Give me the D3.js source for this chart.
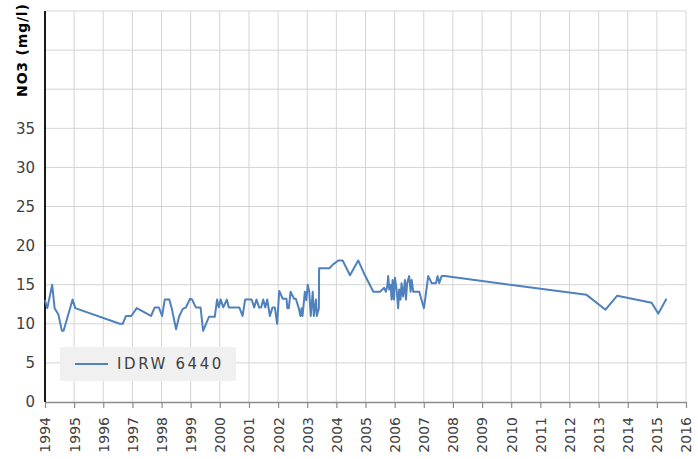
<!DOCTYPE html>
<html>
<head>
<meta charset="utf-8">
<script src="https://cdn.jsdelivr.net/npm/d3@7"></script>
<style>
  html, body { margin: 0; padding: 0; background: #fff; }
  svg { display: block; }
  text { font-family: "DejaVu Sans", sans-serif; }
</style>
</head>
<body>
<svg id="chart" width="698" height="459"></svg>
<script>
// Nitrate concentration samples for well IDRW 6440
const seriesName = "IDRW 6440";
const sampleDates = [
  "1994-01-01","1994-01-30","1994-04-01","1994-05-01","1994-06-18","1994-08-01","1994-08-22","1994-12-13",
  "1995-01-15","1996-07-26","1996-09-01","1996-10-12","1996-12-17","1997-02-24","1997-08-22","1997-10-08",
  "1997-11-28","1998-01-08","1998-02-10","1998-04-08","1998-05-08","1998-07-02","1998-08-08","1998-09-24",
  "1998-11-03","1998-12-24","1999-01-19","1999-03-07","1999-05-05","1999-06-06","1999-08-18","1999-10-30",
  "1999-11-28","1999-12-20","2000-01-12","2000-02-14","2000-03-29","2000-04-23","2000-09-02","2000-10-12",
  "2000-11-14","2001-02-03","2001-03-07","2001-04-05","2001-05-08","2001-06-03","2001-06-28","2001-07-24",
  "2001-08-18","2001-09-20","2001-10-23","2001-11-21","2001-12-20","2002-01-15","2002-02-28","2002-04-16",
  "2002-04-27","2002-05-15","2002-06-06","2002-07-20","2002-08-11","2002-09-17","2002-10-08","2002-10-23",
  "2002-11-03","2002-12-02","2002-12-20","2003-01-08","2003-01-26","2003-02-14","2003-03-11","2003-03-25",
  "2003-04-20","2003-05-01","2003-05-27","2003-05-30","2003-10-05","2003-11-22","2004-01-26","2004-03-20",
  "2004-06-20","2004-10-01","2004-12-24","2005-04-09","2005-07-02","2005-08-23","2005-09-13","2005-09-30",
  "2005-10-12","2005-10-25","2005-11-11","2005-11-24","2005-12-06","2005-12-23","2006-01-04","2006-01-25",
  "2006-02-14","2006-02-27","2006-03-16","2006-03-28","2006-04-17","2006-05-10","2006-05-22","2006-06-07",
  "2006-07-02","2006-07-20","2006-08-02","2006-08-22","2006-11-05","2007-01-03","2007-02-26","2007-04-10",
  "2007-06-02","2007-06-24","2007-07-13","2007-08-13","2007-09-23","2012-08-03","2013-03-28","2013-08-22",
  "2014-10-27","2015-01-19","2015-05-01"
];
const no3Values = [
  13, 12, 15, 12, 11.2, 9.1, 9.1, 13.1,
  12, 10, 10, 11, 11, 12, 11, 12.1,
  12.1, 11, 13.1, 13.1, 12, 9.3, 10.9, 11.9,
  12.1, 13.2, 13.1, 12.1, 12.1, 9.1, 10.9, 10.9,
  13.1, 12.1, 13.1, 12.1, 13.1, 12.1, 12.1, 11,
  13.1, 13.1, 12.1, 13.1, 12.1, 12.1, 13.1, 12.1,
  13.1, 11, 12.1, 12.1, 10, 14.2, 13.2, 13.2,
  12, 12, 14.1, 13.2, 13.2, 12, 11, 12,
  11, 14.1, 13, 15, 14.1, 11, 14.1, 11,
  13.1, 11, 12, 17.1, 17.1, 17.6, 18.1, 18.1,
  16.2, 18.1, 16.2, 14.1, 14.1, 14.6, 14.1, 14.8,
  16.1, 14.4, 15, 13.1, 15.6, 13.1, 15.9, 14.4,
  12, 14.4, 13.1, 15.2, 13.5, 15.6, 13.1, 15.2,
  16.1, 14.1, 15.6, 14.1, 14.1, 12, 16.1, 15.2,
  15.2, 16.1, 15.2, 16.1, 16.1, 13.7, 11.8, 13.6,
  12.7, 11.3, 13.2
];
const yTickValues = [0, 5, 10, 15, 20, 25, 30, 35];
const yGridValues = [0, 5, 10, 15, 20, 25, 30, 35, 40, 45, 50];
const yAxisTitle = "NO3 (mg/l)";
const xStartYear = 1994;
const xEndYear = 2016;

const parse = d3.timeParse("%Y-%m-%d");
const data = sampleDates.map((d, i) => ({ date: parse(d), value: no3Values[i] }));

const svg = d3.select("#chart");
const margin = { left: 45, right: 12, top: 11, bottom: 57 };
const width = 698, height = 459;

const x = d3.scaleTime()
  .domain([new Date(xStartYear, 0, 1), new Date(xEndYear, 0, 1)])
  .range([margin.left, width - margin.right]);
const y = d3.scaleLinear()
  .domain([0, 50])
  .range([height - margin.bottom, margin.top]);

const yearTicks = d3.range(xStartYear, xEndYear + 1).map(yr => new Date(yr, 0, 1));

// grid
const grid = svg.append("g").attr("class", "grid");
grid.selectAll("line.v")
  .data(yearTicks.slice(1))
  .join("line")
  .attr("x1", d => x(d)).attr("x2", d => x(d))
  .attr("y1", y(0)).attr("y2", y(50))
  .attr("stroke", "#d4d4d4").attr("stroke-width", 1);
grid.selectAll("line.h")
  .data(yGridValues.slice(1))
  .join("line")
  .attr("x1", margin.left).attr("x2", x(yearTicks[yearTicks.length - 1]))
  .attr("y1", d => y(d)).attr("y2", d => y(d))
  .attr("stroke", "#d4d4d4").attr("stroke-width", 1);

// x axis
const xAxis = svg.append("g")
  .attr("transform", `translate(0,${y(0)})`)
  .call(d3.axisBottom(x).tickValues(yearTicks).tickFormat(d3.timeFormat("%Y")).tickSize(6).tickSizeOuter(0));
xAxis.select(".domain").attr("stroke", "#8c8c8c").attr("stroke-width", 1.5);
xAxis.selectAll(".tick line").attr("stroke", "#8c8c8c").attr("stroke-width", 1.2);
xAxis.selectAll(".tick text")
  .attr("font-size", 14)
  .attr("fill", "#404040")
  .attr("transform", "rotate(-90)")
  .attr("text-anchor", "end")
  .attr("x", -15)
  .attr("y", 0)
  .attr("dy", "0.35em");

// y axis
const yAxis = svg.append("g")
  .attr("transform", `translate(${margin.left},0)`)
  .call(d3.axisLeft(y).tickValues(yTickValues).tickSize(0).tickPadding(10));
yAxis.select(".domain").remove();
yAxis.selectAll(".tick text").attr("font-size", 15).attr("fill", "#404040");
svg.append("line")
  .attr("x1", margin.left).attr("x2", margin.left)
  .attr("y1", y(50)).attr("y2", y(0))
  .attr("stroke", "#000").attr("stroke-width", 1.8);

svg.append("text")
  .attr("transform", `translate(27,${y(45)}) rotate(-90)`)
  .attr("text-anchor", "middle")
  .attr("font-size", 14)
  .attr("font-weight", "bold")
  .attr("fill", "#000")
  .attr("letter-spacing", 0.8)
  .text(yAxisTitle);

// series line
const line = d3.line().x(d => x(d.date)).y(d => y(d.value));
svg.append("path")
  .datum(data)
  .attr("fill", "none")
  .attr("stroke", "#4f81bd")
  .attr("stroke-width", 2)
  .attr("stroke-linejoin", "round")
  .attr("d", line);

// legend
const legend = svg.append("g").attr("transform", "translate(60,347)");
legend.append("rect").attr("width", 176).attr("height", 34).attr("fill", "#f0f0f0");
legend.append("line").attr("x1", 15).attr("x2", 48).attr("y1", 17).attr("y2", 17)
  .attr("stroke", "#4f81bd").attr("stroke-width", 2);
legend.append("text").attr("x", 57).attr("y", 17).attr("dy", "0.35em")
  .attr("font-size", 15).attr("fill", "#404040").attr("letter-spacing", 2.6)
  .text(seriesName);
</script>
</body>
</html>
